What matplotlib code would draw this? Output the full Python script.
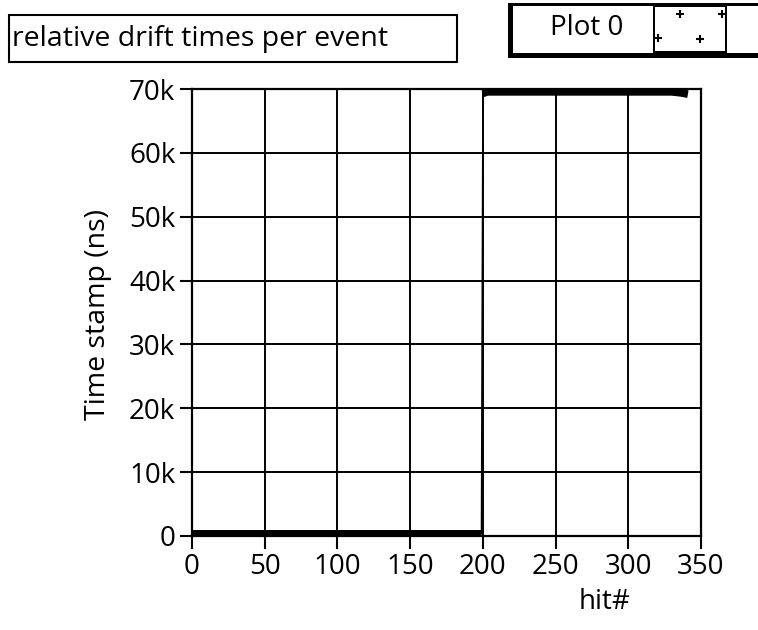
import matplotlib.pyplot as plt
from matplotlib.patches import Rectangle

# hit number vs time stamp (ns)
hit_low = [0, 50, 100, 150, 199]
t_low = [400, 400, 400, 400, 400]
hit_high = [200, 203, 250, 300, 330, 336, 341]
t_high = [69300, 69550, 69550, 69550, 69550, 69400, 69200]

xticks = [0, 50, 100, 150, 200, 250, 300, 350]
yticks = [0, 10000, 20000, 30000, 40000, 50000, 60000, 70000]
ylabels = ['0', '10k', '20k', '30k', '40k', '50k', '60k', '70k']

plt.rcParams['font.family'] = ['Open Sans', 'DejaVu Sans']
FS = 20

W, H = 758, 630
fig = plt.figure(figsize=(W / 100, H / 100), dpi=100)
ax = fig.add_axes([192 / W, 1 - 536 / H, (701 - 192) / W, (536 - 89) / H])

ax.plot(hit_low, t_low, color='black', lw=5, solid_capstyle='butt', zorder=3)
ax.plot(hit_high, t_high, color='black', lw=5.5, solid_capstyle='butt', zorder=3)
ax.plot([hit_low[-1], hit_high[0]], [t_low[-1], t_high[0]], color='black', lw=1, zorder=3)

ax.set_xlim(0, 350)
ax.set_ylim(0, 70000)
ax.set_xticks(xticks)
ax.set_yticks(yticks)
ax.set_yticklabels(ylabels)
ax.grid(True, color='black', lw=1.4)
for s in ax.spines.values():
    s.set_linewidth(1.6)
ax.tick_params(direction='out', length=9, width=1.5, labelsize=FS, pad=3)

fig.text(98 / W, 1 - 314 / H, 'Time stamp (ns)', rotation=90, fontsize=FS + 0.5,
         ha='center', va='center')
fig.text(605 / W, 1 - 602 / H, 'hit#', fontsize=FS, ha='center', va='center')

# title box
fig.patches.append(Rectangle((9 / W, 1 - 62 / H), 448 / W, 47 / H, transform=fig.transFigure,
                             facecolor='white', edgecolor='black', lw=1.5))
fig.text(12 / W, 1 - 39 / H, 'relative drift times per event', fontsize=FS + 0.5,
         ha='left', va='center')

# legend
fig.patches.append(Rectangle((508 / W, 1 - 58 / H), 260 / W, 55 / H, transform=fig.transFigure,
                             facecolor='black', edgecolor='none'))
for x0, x1, y0, y1 in [(513, 653, 6, 53), (655, 725, 7, 51), (727, 770, 6, 53)]:
    fig.patches.append(Rectangle((x0 / W, 1 - y1 / H), (x1 - x0) / W, (y1 - y0) / H,
                                 transform=fig.transFigure, facecolor='white',
                                 edgecolor='none'))
fig.text(587 / W, 1 - 28 / H, 'Plot 0', fontsize=FS, ha='center', va='center')
for mx, my in [(680, 14), (700, 39), (658, 38), (722, 14)]:
    fig.lines.append(plt.Line2D([mx / W], [1 - my / H], transform=fig.transFigure,
                                marker='+', ms=6, mew=1.5, color='black'))

fig.savefig('out.png', dpi=100)
